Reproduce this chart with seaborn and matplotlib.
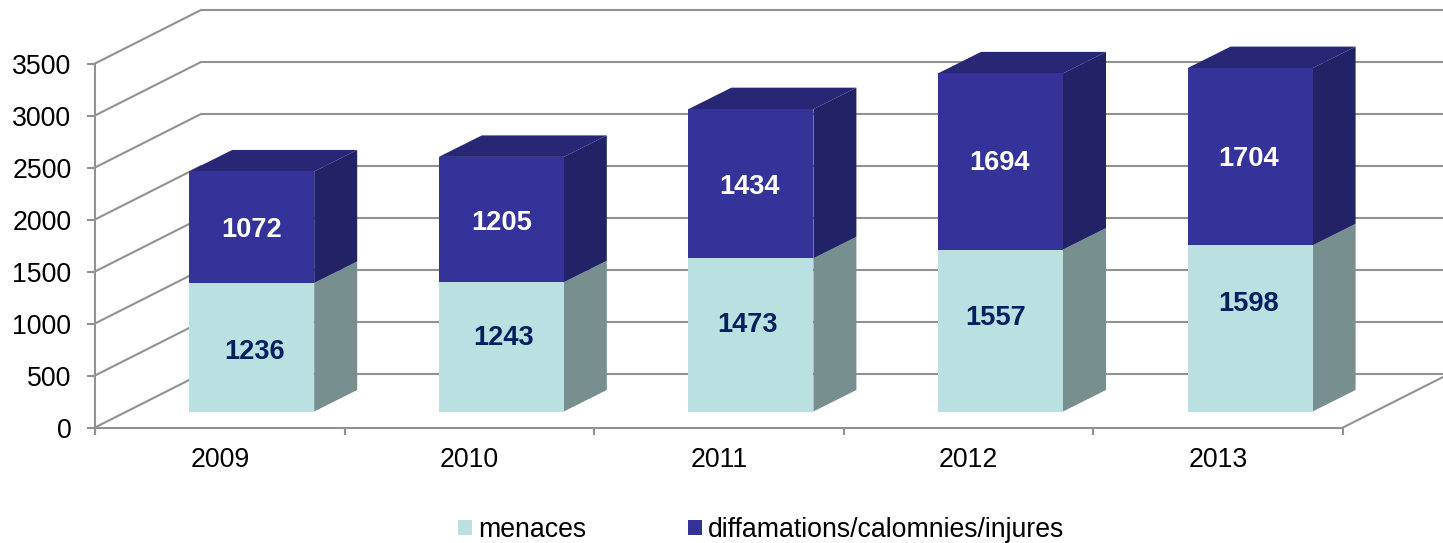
import matplotlib
matplotlib.use("Agg")
import matplotlib.pyplot as plt
import seaborn as sns
from matplotlib.patches import Polygon, Patch
from matplotlib.transforms import Affine2D

years = ["2009", "2010", "2011", "2012", "2013"]
menaces = [1236, 1243, 1473, 1557, 1598]
diffamations = [1072, 1205, 1434, 1694, 1704]
series_names = ["menaces", "diffamations/calomnies/injures"]
y_ticks = [0, 500, 1000, 1500, 2000, 2500, 3000, 3500]

# manual nudges of the data labels (pixels)
light_nudge = [(2.5, -5), (2.5, 9), (-3.5, 10), (-4.5, 13), (-1.5, 24)]
dark_nudge = [(0, -3), (0, -3), (-1.5, -3), (-1.5, -2), (-1.5, -2)]

LIGHT, LIGHT_SIDE = "#BAE0E1", "#788F90"
DARK, DARK_SIDE, DARK_TOP = "#333399", "#222266", "#272775"
GREY = "#919191"
W, H = 1443, 543

sns.set_theme(style="white")
plt.rcParams["font.family"] = ["Liberation Sans", "DejaVu Sans"]
FS = 19.2
FS_LABEL = 19.6

fig = plt.figure(figsize=(W / 100, H / 100), dpi=100)
ax = fig.add_axes([95 / W, (H - 427.5) / H, 1248 / W, 364 / H])
ax.set_xlim(-0.5, 4.5)
ax.set_ylim(0, 3500)

PX_X = 5 / 1248     # data units per pixel, x
PX_Y = 3500 / 364   # data units per pixel, y

front = ax.transData + Affine2D().translate(31.9, 16)
bar_w = 125 * PX_X

sns.barplot(x=years, y=menaces, color=LIGHT, saturation=1, width=bar_w, ax=ax, zorder=5, linewidth=0)
sns.barplot(x=years, y=diffamations, bottom=menaces, color=DARK, saturation=1, width=bar_w, ax=ax, zorder=5, linewidth=0)
ax.set_xlim(-0.5, 4.5)
ax.set_ylim(0, 3500)
for p in ax.patches:
    p.set_transform(front)
    p.set_clip_on(False)

# back wall and diagonals
wx, wy = 106 * PX_X, 53.5 * PX_Y
for v in y_ticks:
    ax.plot([-0.5, -0.5 + wx, 4.5 + wx], [v, v + wy, v + wy], color=GREY, lw=1.5,
            clip_on=False, zorder=1, solid_joinstyle="miter")
ax.plot([4.5, 4.5 + wx], [0, wy], color=GREY, lw=1.5, clip_on=False, zorder=1)

# bar depth faces
dx, dy = 43 * PX_X, 21.5 * PX_Y
for i in range(len(years)):
    l, r = i - bar_w / 2, i + bar_w / 2
    m, t = menaces[i], menaces[i] + diffamations[i]
    for pts, col in [
        ([(r, 0), (r + dx, dy), (r + dx, m + dy), (r, m)], LIGHT_SIDE),
        ([(r, m), (r + dx, m + dy), (r + dx, t + dy), (r, t)], DARK_SIDE),
        ([(l, t), (l + dx, t + dy), (r + dx, t + dy), (r, t)], DARK_TOP),
    ]:
        ax.add_patch(Polygon(pts, closed=True, facecolor=col, edgecolor="none",
                             transform=front, clip_on=False, zorder=4))
    ln, dn = light_nudge[i], dark_nudge[i]
    ax.text(i, m / 2, str(menaces[i]), ha="center", va="center", fontsize=FS_LABEL, fontweight="bold",
            color="#002060", zorder=6, transform=front + Affine2D().translate(*ln))
    ax.text(i, m + diffamations[i] / 2, str(diffamations[i]), ha="center", va="center", fontsize=FS_LABEL,
            fontweight="bold", color="white", zorder=6, transform=front + Affine2D().translate(*dn))

# axes
for s in ["top", "right"]:
    ax.spines[s].set_visible(False)
for s in ["left", "bottom"]:
    ax.spines[s].set_color(GREY)
    ax.spines[s].set_linewidth(1.5)
ax.set_yticks(y_ticks)
ax.tick_params(axis="y", left=True, length=6, width=1.5, color=GREY, labelsize=FS, labelcolor="black", pad=11)
ax.set_xticks(range(len(years)))
ax.set_xticklabels(years)
ax.tick_params(axis="x", which="major", bottom=False, length=0, labelsize=FS, labelcolor="black", pad=14)
ax.set_xticks([i - 0.5 for i in range(len(years) + 1)], minor=True)
ax.tick_params(axis="x", which="minor", bottom=True, length=5, width=1.5, color=GREY)
ax.set_xlabel("")
ax.set_ylabel("")
ax.patch.set_alpha(0)

handles = [Patch(facecolor=LIGHT, edgecolor="none"), Patch(facecolor=DARK, edgecolor="none")]
fig.legend(handles, series_names, ncol=2, frameon=False, fontsize=FS, loc="lower left",
           bbox_to_anchor=(458 / W, 0.0), bbox_transform=fig.transFigure, borderpad=0,
           borderaxespad=0, handlelength=0.52, handleheight=0.52, handletextpad=0.22,
           columnspacing=3.82, labelcolor="black")

fig.savefig("out.png", dpi=100, facecolor="white")
